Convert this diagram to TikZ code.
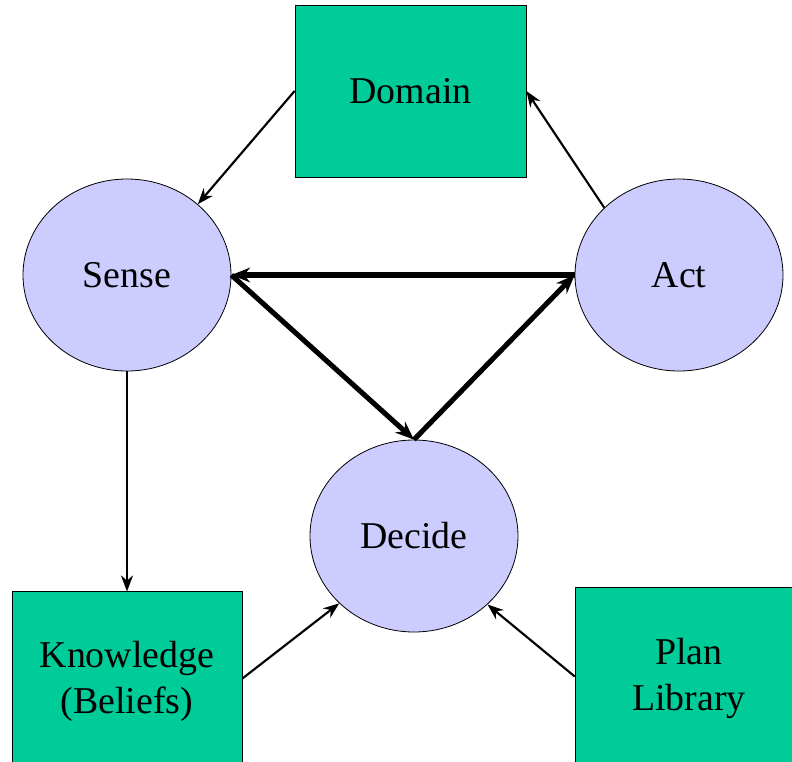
\documentclass[tikz,border=0pt]{standalone}
\usepackage{fontspec}
\setmainfont{Liberation Serif}
\usetikzlibrary{shapes.geometric,arrows.meta}
\definecolor{boxgreen}{HTML}{00CC99}
\definecolor{blobblue}{HTML}{CCCCFF}
\begin{document}
\begin{tikzpicture}[x=0.75pt,y=-0.75pt,
  every node/.style={font=\fontsize{28.4}{34.5}\selectfont, align=center},
  stage/.style={ellipse, draw=black, line width=0.6pt, fill=blobblue,
    minimum width=156pt, minimum height=144pt, inner sep=0pt},
  store/.style={rectangle, draw=black, line width=0.6pt, fill=boxgreen, inner sep=0pt},
  link/.style={line width=1.6pt, -{Stealth[length=12pt,width=9pt]}},
  cycle/.style={line width=3.8pt, -{Stealth[length=14pt,width=11pt]}}]
\useasboundingbox (0,0) rectangle (792,761);

% stores
\node[store, minimum width=173.25pt, minimum height=129pt] (dom) at (410.5,91) {Domain};
\node[store, minimum width=172.5pt, minimum height=130pt] (know) at (127,678.5) {};
\node at (127,681) {Knowledge\\(Beliefs)};
\node[store, minimum width=164pt, minimum height=133pt] (plan) at (684.5,676.5) {};
\node at (689,678) {Plan\\Library};

% stages
\node[stage] (sense) at (127,275) {Sense};
\node[stage] (act) at (679,275) {Act};
\node[stage] (decide) at (414,536) {Decide};

% information flow
\draw[link] (dom.west) -- (sense.45);
\draw[link] (act.138) -- (dom.east);
\draw[link] (sense.south) -- (know.north);
\draw[link] (know.east) -- (decide.222);
\draw[link] (plan.west) -- (decide.317);

% sense-decide-act cycle
\draw[cycle] (act.west) -- (sense.east);
\draw[cycle] (sense.east) -- (decide.north);
\draw[cycle] (decide.north) -- (act.west);
\end{tikzpicture}
\end{document}
